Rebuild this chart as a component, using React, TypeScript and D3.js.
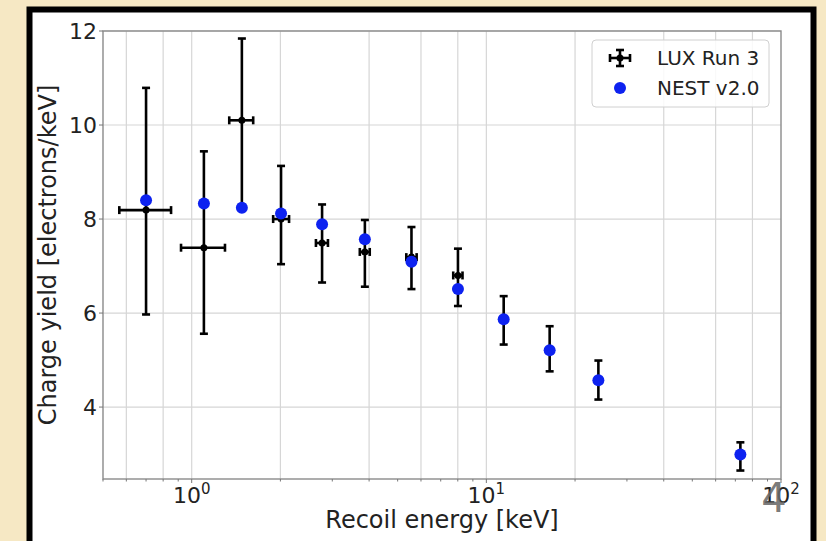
import React from "react";
import * as d3 from "d3";

const energy = [0.70, 1.10, 1.48, 2.01, 2.77, 3.87, 5.57, 8.01, 11.45, 16.4, 24.0, 72.8];
const energyLow = [0.568, 0.92, 1.341, 1.89, 2.64, 3.72, 5.35, 7.72, 11.45, 16.4, 24.0, 72.8];
const energyHigh = [0.851, 1.297, 1.617, 2.14, 2.90, 4.02, 5.80, 8.30, 11.45, 16.4, 24.0, 72.8];
const luxYield = [8.19, 7.39, 10.10, 8.00, 7.49, 7.30, 7.19, 6.80, 5.87, 5.22, 4.57, 2.99];
const luxUpper = [10.79, 9.44, 11.84, 9.13, 8.31, 7.98, 7.83, 7.37, 6.36, 5.72, 4.99, 3.25];
const luxLower = [5.97, 5.56, 8.30, 7.04, 6.65, 6.56, 6.51, 6.15, 5.33, 4.76, 4.16, 2.65];
const nestYield = [8.40, 8.33, 8.24, 8.12, 7.89, 7.57, 7.09, 6.51, 5.87, 5.21, 4.57, 2.99];
const yTicks = [4, 6, 8, 10, 12];
const xMajor = [1, 10, 100];
const xExponents = ["0", "1", "2"];
const legendLabels = ["LUX Run 3", "NEST v2.0"];
const xLabel = "Recoil energy [keV]";
const yLabel = "Charge yield [electrons/keV]";
const slideNumber = "4";

const W = 826, H = 541;
const L = 103, R = 781, T = 31, B = 479;
const FONT = "DejaVu Sans, sans-serif";
const TXT = "#222";
const BLUE = "#0d22f0";

export default function App() {
  const x = d3.scaleLog().domain([0.5, 100]).range([L, R]);
  const y = d3.scaleLinear().domain([2.47, 12]).range([B, T]);

  const minor: number[] = [];
  [0.1, 1, 10].forEach((dec) => {
    for (let k = 2; k <= 9; k++) {
      const v = dec * k;
      if (v >= 0.5 && v <= 100) minor.push(v);
    }
  });
  const gridMinor = minor.filter((v) => {
    const k = Math.round(v / Math.pow(10, Math.floor(Math.log10(v) + 1e-9)));
    return k % 2 === 0;
  });

  const cap = 4;
  return (
    <svg width={W} height={H} style={{ position: "absolute", left: 0, top: 0 }}>
      <rect x={0} y={0} width={W} height={H} fill="#f6e8c4" />
      <rect x={29.5} y={9.5} width={784} height={560} fill="#fff" stroke="#000" strokeWidth={6} />
      <defs>
        <clipPath id="pa">
          <rect x={L} y={T} width={R - L} height={B - T} />
        </clipPath>
      </defs>
      {/* grid */}
      <g stroke="#d6d6d6" strokeWidth={1.2}>
        {[...gridMinor, ...xMajor].filter((v) => x(v) < R - 1).map((v, i) => (
          <line key={"gx" + i} x1={x(v)} x2={x(v)} y1={T} y2={B} />
        ))}
        {yTicks.map((v) => (
          <line key={"gy" + v} x1={L} x2={R} y1={y(v)} y2={y(v)} />
        ))}
      </g>
      {/* spines */}
      <rect x={L} y={T} width={R - L} height={B - T} fill="none" stroke="#8a8a8a" strokeWidth={1.4} />
      {/* ticks */}
      <g stroke="#777" strokeWidth={1}>
        {minor.map((v, i) => (
          <line key={"mt" + i} x1={x(v)} x2={x(v)} y1={B} y2={B + 2.5} />
        ))}
        {xMajor.map((v) => (
          <line key={"Mt" + v} x1={x(v)} x2={x(v)} y1={B} y2={B + 4} />
        ))}
        {yTicks.map((v) => (
          <line key={"yt" + v} x1={L - 4} x2={L} y1={y(v)} y2={y(v)} />
        ))}
      </g>
      {/* tick labels */}
      <g fontFamily={FONT} fill={TXT}>
        {yTicks.map((v) => (
          <text key={"yl" + v} x={L - 6} y={y(v)} dy="0.36em" textAnchor="end" fontSize={22}>
            {v}
          </text>
        ))}
        {xMajor.map((v, i) => (
          <text key={"xl" + v} x={x(v)} y={503} textAnchor="middle" fontSize={22}>
            10
            <tspan fontSize={15} dy={-9}>{xExponents[i]}</tspan>
          </text>
        ))}
        <text x={(L + R) / 2} y={528} textAnchor="middle" fontSize={24}>
          {xLabel}
        </text>
        <text
          transform={`translate(56,${(T + B) / 2}) rotate(-90)`}
          textAnchor="middle"
          fontSize={24}
        >
          {yLabel}
        </text>
      </g>
      {/* data */}
      <g clipPath="url(#pa)">
        <g stroke="#000" strokeWidth={2.6}>
          {energy.map((e, i) => (
            <g key={"lux" + i}>
              <line x1={x(e)} x2={x(e)} y1={y(luxLower[i])} y2={y(luxUpper[i])} />
              <line x1={x(e) - cap} x2={x(e) + cap} y1={y(luxLower[i])} y2={y(luxLower[i])} />
              <line x1={x(e) - cap} x2={x(e) + cap} y1={y(luxUpper[i])} y2={y(luxUpper[i])} />
              {energyHigh[i] > energyLow[i] && (
                <g>
                  <line x1={x(energyLow[i])} x2={x(energyHigh[i])} y1={y(luxYield[i])} y2={y(luxYield[i])} />
                  <line x1={x(energyLow[i])} x2={x(energyLow[i])} y1={y(luxYield[i]) - cap} y2={y(luxYield[i]) + cap} />
                  <line x1={x(energyHigh[i])} x2={x(energyHigh[i])} y1={y(luxYield[i]) - cap} y2={y(luxYield[i]) + cap} />
                </g>
              )}
            </g>
          ))}
        </g>
        {energy.map((e, i) => (
          <circle key={"lp" + i} cx={x(e)} cy={y(luxYield[i])} r={3.5} fill="#000" />
        ))}
        {energy.map((e, i) => (
          <circle key={"np" + i} cx={x(e)} cy={y(nestYield[i])} r={6} fill={BLUE} />
        ))}
      </g>
      {/* legend */}
      <g>
        <rect x={592} y={40} width={177} height={67} rx={4} fill="#fff" fillOpacity={0.85} stroke="#d0d0d0" strokeWidth={1} />
        <g stroke="#000" strokeWidth={2.6}>
          <line x1={610} x2={630} y1={58} y2={58} />
          <line x1={620} x2={620} y1={50} y2={66} />
          <line x1={616} x2={624} y1={50} y2={50} />
          <line x1={616} x2={624} y1={66} y2={66} />
          <line x1={610} x2={610} y1={54} y2={62} />
          <line x1={630} x2={630} y1={54} y2={62} />
        </g>
        <circle cx={620} cy={58} r={3.5} fill="#000" />
        <circle cx={620} cy={88} r={6} fill={BLUE} />
        <text x={657} y={65} fontFamily={FONT} fontSize={20} fill={TXT}>{legendLabels[0]}</text>
        <text x={657} y={95} fontFamily={FONT} fontSize={20} fill={TXT}>{legendLabels[1]}</text>
      </g>
      <text x={774} y={512} textAnchor="middle" fontFamily={FONT} fontSize={40} fill="#6a6a6a" fillOpacity={0.9}>
        {slideNumber}
      </text>
    </svg>
  );
}
